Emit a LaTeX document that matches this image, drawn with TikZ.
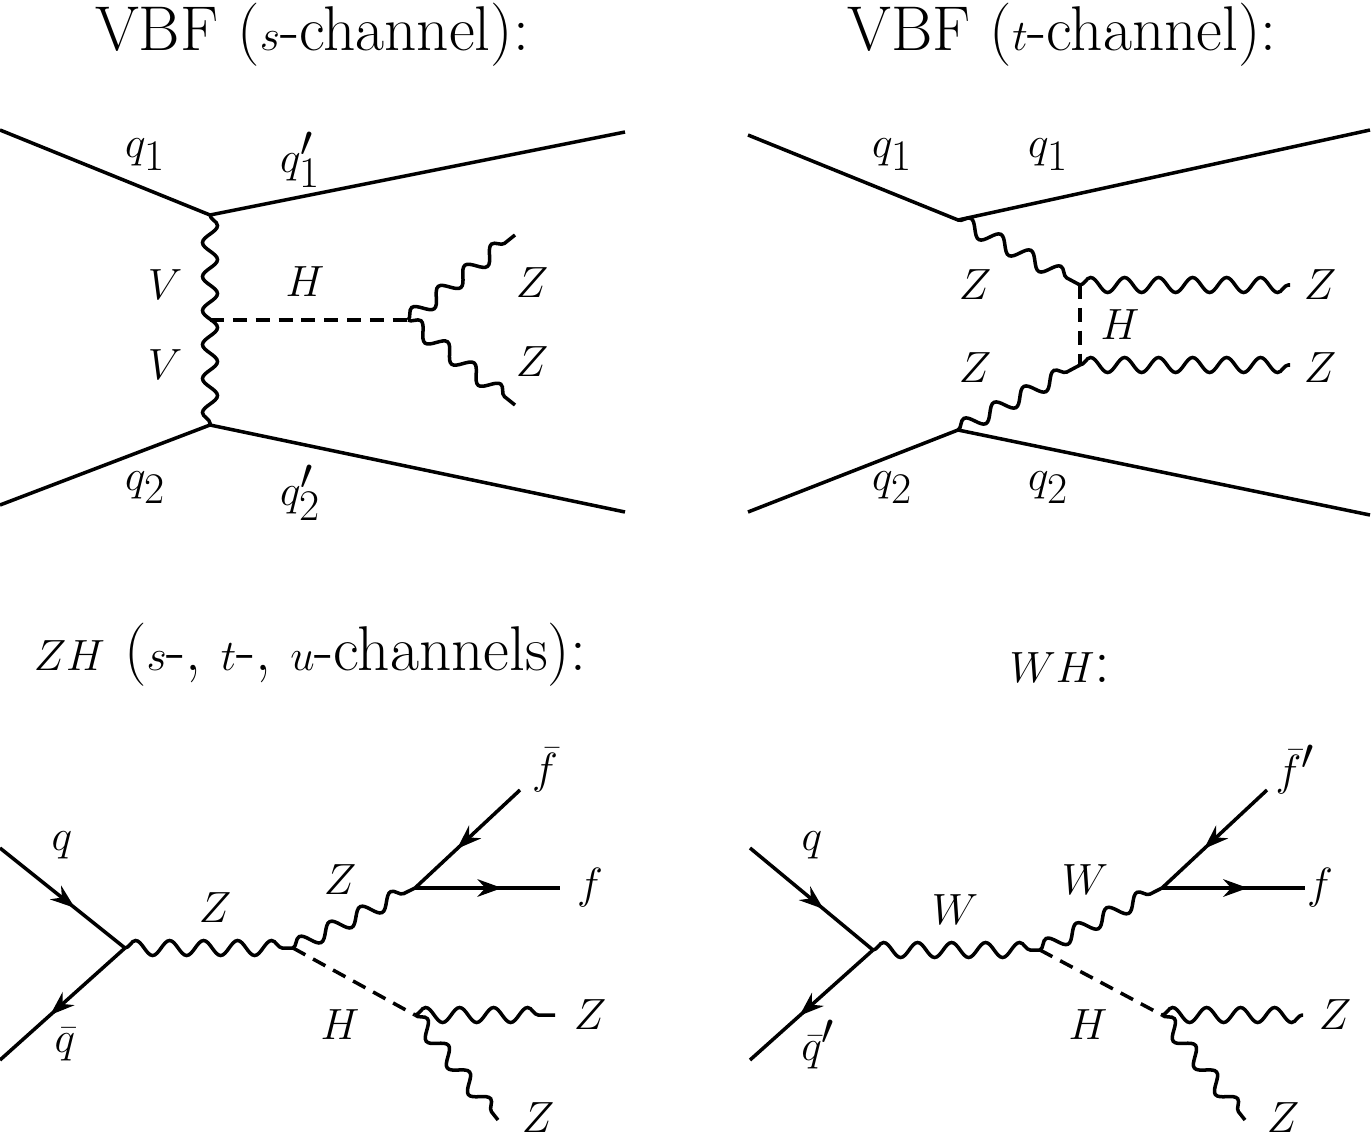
\documentclass[tikz,border=0pt]{standalone}
\usetikzlibrary{decorations.pathmorphing,decorations.markings,arrows.meta}
\begin{document}
\begin{tikzpicture}[x=0.02cm,y=-0.02cm,line width=2pt,
  bos/.style={decorate,decoration={snake,segment length=0.68cm,amplitude=0.15cm}},
  sca/.style={dashed,dash pattern=on 8pt off 5pt},
  arr/.style={postaction={decorate},decoration={markings,mark=at position 0.6 with {\arrow{Stealth[length=14pt,width=10pt]}}}},
  lab/.style={font=\fontsize{35}{40}\selectfont},
  ttl/.style={font=\fontsize{36}{40}\selectfont}]
\useasboundingbox (0,0) rectangle (1372,1142);
% Panel 1
\node[ttl] (t1) at (312,35) {VBF ($s$-channel):};
\coordinate (a1) at (0,130); \coordinate (a2) at (210,215); \coordinate (a3) at (625,132);
\coordinate (b1) at (0,505); \coordinate (b2) at (210,425); \coordinate (b3) at (625,512);
\coordinate (am) at (210,320); \coordinate (ah) at (408,320);
\coordinate (az1) at (515,235); \coordinate (az2) at (515,405);
\draw (a1)--(a2)--(a3); \draw (b1)--(b2)--(b3);
\draw[bos] (a2)--(b2);
\draw[sca] (am)--(ah);
\draw[bos] (ah)--(az1); \draw[bos] (ah)--(az2);
\node[lab] (l1) at (145,155) {$q_1$};
\node[lab] (l2) at (300,160) {$q_1'$};
\node[lab] (l3) at (165,285) {$V$};
\node[lab] (l4) at (165,365) {$V$};
\node[lab] (l5) at (305,282) {$H$};
\node[lab] (l6) at (532,283) {$Z$};
\node[lab] (l7) at (532,362) {$Z$};
\node[lab] (l8) at (145,488) {$q_2$};
\node[lab] (l9) at (300,493) {$q_2'$};
% Panel 2
\node[ttl] (t2) at (1062,35) {VBF ($t$-channel):};
\coordinate (c1) at (748,135); \coordinate (c2) at (958,220); \coordinate (c3) at (1370,130);
\coordinate (d1) at (748,512); \coordinate (d2) at (958,430); \coordinate (d3) at (1370,515);
\coordinate (cu) at (1080,285); \coordinate (cd) at (1080,365);
\coordinate (cz1) at (1290,285); \coordinate (cz2) at (1290,365);
\draw (c1)--(c2)--(c3); \draw (d1)--(d2)--(d3);
\draw[bos] (c2)--(cu); \draw[bos] (cu)--(cz1);
\draw[bos] (d2)--(cd); \draw[bos] (cd)--(cz2);
\draw[sca] (cu)--(cd);
\node[lab] (m1) at (892,155) {$q_1$};
\node[lab] (m2) at (1048,155) {$q_1$};
\node[lab] (m3) at (975,285) {$Z$};
\node[lab] (m4) at (975,368) {$Z$};
\node[lab] (m5) at (1120,325) {$H$};
\node[lab] (m6) at (1320,285) {$Z$};
\node[lab] (m7) at (1320,368) {$Z$};
\node[lab] (m8) at (892,488) {$q_2$};
\node[lab] (m9) at (1048,488) {$q_2$};
% Panel 3
\node[ttl] (t3) at (310,655) {$ZH$ ($s$-, $t$-, $u$-channels):};
\coordinate (e1) at (0,848); \coordinate (e2) at (125,948); \coordinate (e3) at (0,1060);
\coordinate (e4) at (293,948); \coordinate (e5) at (415,888); \coordinate (e6) at (415,1015);
\coordinate (e7) at (520,790); \coordinate (e8) at (560,888);
\coordinate (e9) at (555,1015); \coordinate (e10) at (498,1120);
\draw[arr] (e1)--(e2); \draw[arr] (e2)--(e3);
\draw[bos] (e2)--(e4); \draw[bos] (e4)--(e5);
\draw[sca] (e4)--(e6);
\draw[arr] (e7)--(e5); \draw[arr] (e5)--(e8);
\draw[bos] (e6)--(e9); \draw[bos] (e6)--(e10);
\node[lab] (n1) at (62,845) {$q$};
\node[lab] (n2) at (65,1045) {$\bar q$};
\node[lab] (n3) at (215,908) {$Z$};
\node[lab] (n4) at (340,880) {$Z$};
\node[lab] (n5) at (545,770) {$\bar f$};
\node[lab] (n6) at (590,888) {$f$};
\node[lab] (n7) at (340,1025) {$H$};
\node[lab] (n8) at (590,1015) {$Z$};
\node[lab] (n9) at (538,1118) {$Z$};
% Panel 4
\node[ttl] (t4) at (1060,668) {$WH$:};
\coordinate (f1) at (750,848); \coordinate (f2) at (873,950); \coordinate (f3) at (750,1060);
\coordinate (f4) at (1040,950); \coordinate (f5) at (1162,888); \coordinate (f6) at (1162,1015);
\coordinate (f7) at (1267,790); \coordinate (f8) at (1305,888);
\coordinate (f9) at (1303,1015); \coordinate (f10) at (1245,1120);
\draw[arr] (f1)--(f2); \draw[arr] (f2)--(f3);
\draw[bos] (f2)--(f4); \draw[bos] (f4)--(f5);
\draw[sca] (f4)--(f6);
\draw[arr] (f7)--(f5); \draw[arr] (f5)--(f8);
\draw[bos] (f6)--(f9); \draw[bos] (f6)--(f10);
\node[lab] (o1) at (812,845) {$q$};
\node[lab] (o2) at (818,1045) {$\bar q'$};
\node[lab] (o3) at (955,910) {$W$};
\node[lab] (o4) at (1085,880) {$W$};
\node[lab] (o5) at (1295,770) {$\bar f'$};
\node[lab] (o6) at (1320,888) {$f$};
\node[lab] (o7) at (1088,1025) {$H$};
\node[lab] (o8) at (1335,1015) {$Z$};
\node[lab] (o9) at (1283,1118) {$Z$};
\end{tikzpicture}
\end{document}
